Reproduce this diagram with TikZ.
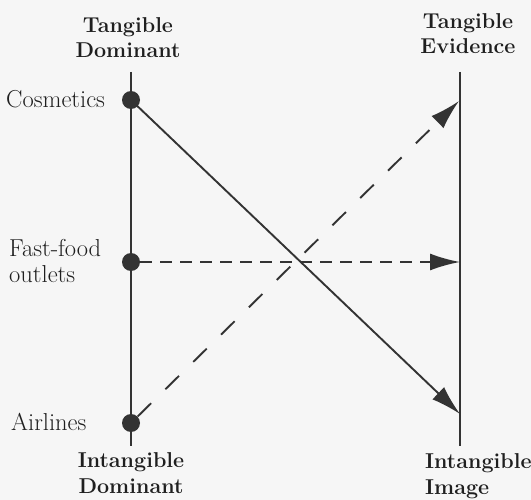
\documentclass[tikz,border=0pt]{standalone}
\usetikzlibrary{arrows.meta}
\definecolor{ink}{gray}{0.2}
\definecolor{txt}{gray}{0.12}
\definecolor{paper}{gray}{0.965}
\tikzset{
  axis/.style={draw=ink, line width=1.9pt},
  dot/.style={circle, fill=ink, inner sep=0pt, minimum size=18pt},
  conn/.style={draw=ink, line width=1.9pt, -{Latex[length=30pt,width=17pt]}},
  dconn/.style={conn, dash pattern=on 12pt off 8pt},
  ddconn/.style={conn, dash pattern=on 19pt off 20pt},
  head/.style={text=txt, font=\fontsize{21.5}{25.5}\selectfont\bfseries, align=center, inner sep=0pt},
  headl/.style={head, align=left},
  lab/.style={text=txt, font=\fontsize{24.5}{26}\selectfont, align=left, inner sep=0pt}
}
\begin{document}
\begin{tikzpicture}[x=1pt,y=-1pt]
\useasboundingbox[fill=paper] (0,0) rectangle (531,500);
% axes
\coordinate (lt) at (131,72);
\coordinate (lb) at (131,446);
\coordinate (rt) at (460,72);
\coordinate (rb) at (460,446);
\draw[axis] (lt) -- (lb);
\draw[axis] (rt) -- (rb);
% dots
\node[dot] (cos) at (131,100) {};
\node[dot] (ff) at (131,262) {};
\node[dot] (air) at (131,423) {};
% targets
\coordinate (te) at (459,101);
\coordinate (mid) at (460,262);
\coordinate (ii) at (460,414);
% connectors
\draw[conn] (cos.center) -- (ii);
\draw[dconn] (ff) -- (mid);
\draw[ddconn] (air) -- (te);
% labels (base = baseline of last line)
\node[head, anchor=base] (td) at (128,58) {Tangible\\Dominant};
\node[head, anchor=base] (tev) at (468,54) {Tangible\\Evidence};
\node[head, anchor=base] (id) at (131,493) {Intangible\\Dominant};
\node[headl, anchor=base west] (iim) at (425,494) {Intangible\\Image};
\node[lab, anchor=base west] (lc) at (6,108) {Cosmetics};
\node[lab, anchor=base west] (lf) at (9,283) {Fast-food\\outlets};
\node[lab, anchor=base west] (la) at (11,430) {Airlines};
\end{tikzpicture}
\end{document}
